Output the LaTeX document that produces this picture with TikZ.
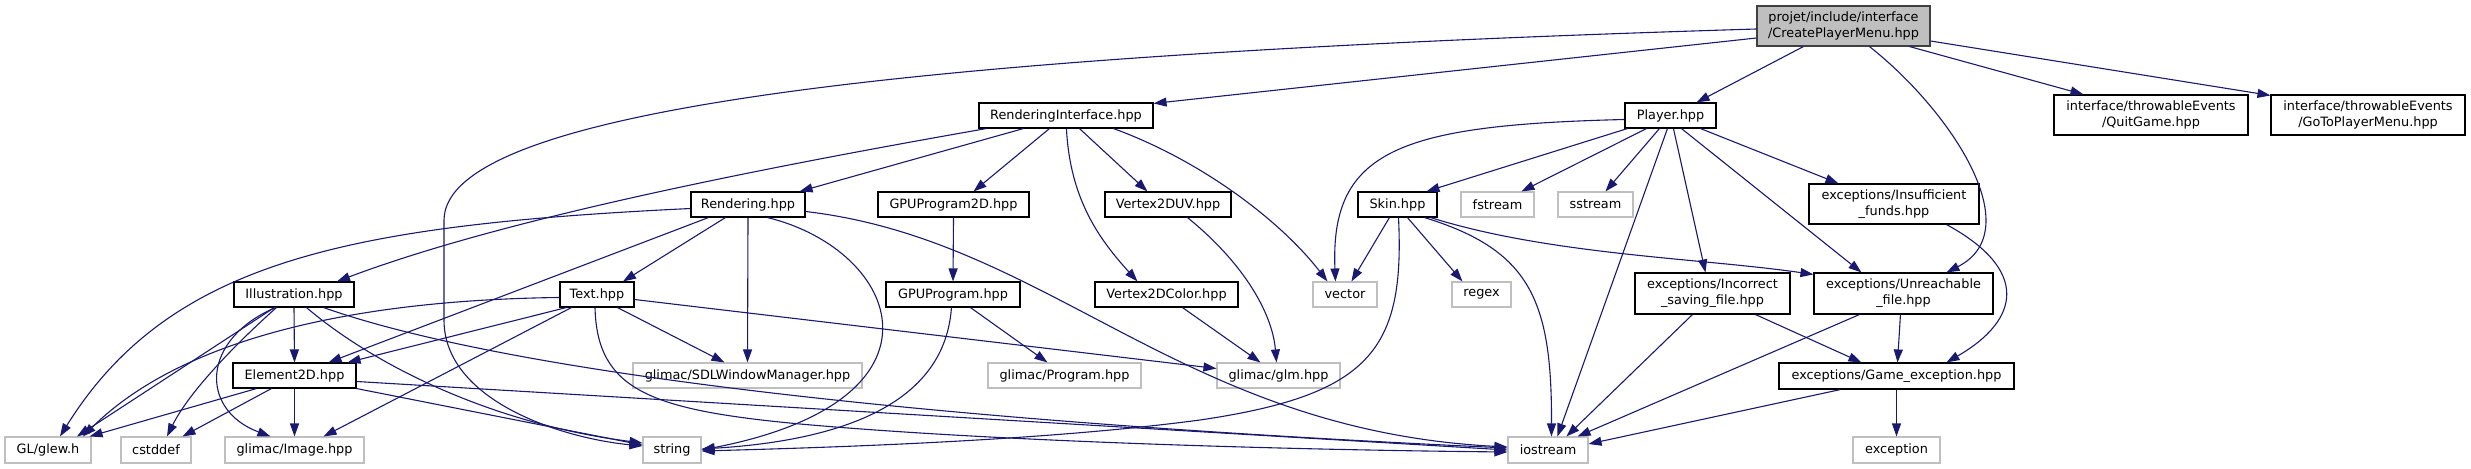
\documentclass[tikz,border=0pt]{standalone}
\usepackage{fontspec}
\setmainfont{DejaVu Sans}
\usetikzlibrary{arrows.meta,calc}
\definecolor{edgec}{HTML}{191970}
\definecolor{extc}{HTML}{BFBFBF}
\definecolor{mainfill}{HTML}{BFBFBF}
\definecolor{mainborder}{HTML}{404040}
\begin{document}
\begin{tikzpicture}[x=1bp,y=-1bp,
  box/.style={draw=black, line width=1.1bp, fill=white, inner sep=0pt, align=center,
    font=\fontsize{12.9}{16}\selectfont},
  ext/.style={box, draw=extc},
  mainbox/.style={box, draw=mainborder, fill=mainfill},
  sz/.style 2 args={minimum width=#1bp, minimum height=#2bp},
  dep/.style={draw=edgec, line width=1.1bp, -{Triangle[length=13bp,width=9bp]}},
]
\useasboundingbox (0,0) rectangle (2471,469);
% nodes
\node[mainbox, sz={173}{40}] (main) at (1843.5,26) {projet/include/interface\\/CreatePlayerMenu.hpp};
\node[box, sz={174}{25}] (RI) at (1066,115.5) {RenderingInterface.hpp};
\node[box, sz={91}{25}] (Player) at (1670.5,115.5) {Player.hpp};
\node[box, sz={194}{40}] (Quit) at (2151,115) {interface/throwableEvents\\/QuitGame.hpp};
\node[box, sz={194}{40}] (GoTo) at (2368,115) {interface/throwableEvents\\/GoToPlayerMenu.hpp};
\node[box, sz={114}{25}] (Rendering) at (748,204.5) {Rendering.hpp};
\node[box, sz={151}{25}] (GPU2D) at (953.5,204.5) {GPUProgram2D.hpp};
\node[box, sz={126}{25}] (V2DUV) at (1168,204.5) {Vertex2DUV.hpp};
\node[box, sz={79}{25}] (Skin) at (1397.5,204.5) {Skin.hpp};
\node[ext, sz={73}{25}] (fstream) at (1497.5,204.5) {fstream};
\node[ext, sz={75}{25}] (sstream) at (1595.5,204.5) {sstream};
\node[box, sz={170}{40}] (Insuff) at (1894,204) {exceptions/Insufficient\\\_funds.hpp};
\node[box, sz={120}{25}] (Illu) at (294,294.5) {Illustration.hpp};
\node[box, sz={74}{25}] (Text) at (597,294.5) {Text.hpp};
\node[box, sz={134}{25}] (GPU) at (953,294.5) {GPUProgram.hpp};
\node[box, sz={143}{25}] (V2DColor) at (1166.5,294.5) {Vertex2DColor.hpp};
\node[ext, sz={64}{25}] (vector) at (1345,294.5) {vector};
\node[ext, sz={59}{25}] (regex) at (1481.5,294.5) {regex};
\node[box, sz={155}{41}] (Inc) at (1712.5,293.5) {exceptions/Incorrect\\\_saving\_file.hpp};
\node[box, sz={179}{41}] (Unr) at (1903.5,293.5) {exceptions/Unreachable\\\_file.hpp};
\node[box, sz={123}{25}] (E2D) at (294.5,375.5) {Element2D.hpp};
\node[ext, sz={229}{25}] (SDL) at (747.5,375.5) {glimac/SDLWindowManager.hpp};
\node[ext, sz={153}{25}] (Program) at (1064.5,375.5) {glimac/Program.hpp};
\node[ext, sz={123}{25}] (glm) at (1278.5,375.5) {glimac/glm.hpp};
\node[box, sz={235}{26}] (GE) at (1896.5,376) {exceptions/Game\_exception.hpp};
\node[ext, sz={86}{26}] (GL) at (48,450) {GL/glew.h};
\node[ext, sz={70}{26}] (cstddef) at (156,450) {cstddef};
\node[ext, sz={139}{26}] (Image) at (294.5,450) {glimac/Image.hpp};
\node[ext, sz={58}{26}] (string) at (672,450) {string};
\node[ext, sz={80}{26}] (iostream) at (1548,450) {iostream};
\node[ext, sz={87}{26}] (exception) at (1896.5,450) {exception};
% edges from main
\draw[dep] ($(main.west)+(0,3)$) .. controls (900,55) and (445,110) .. (444,220) -- (444,320)
  .. controls (444,400) and (560,438) .. ($(string.west)+(0,-4)$);
\draw[dep] ($(main.west)+(0,12)$) -- ($(RI.north east)+(0,1)$);
\draw[dep] ($(main.south west)+(47,0)$) -- ($(Player.north east)+(-20,0)$);
\draw[dep] ($(main.south west)+(113,0)$) .. controls (1950,110) and (2030,230) .. ($(Unr.north west)+(133,0)$);
\draw[dep] ($(main.south west)+(153,0)$) -- ($(Quit.north west)+(30,0)$);
\draw[dep] ($(main.east)+(0,15)$) -- ($(GoTo.north west)+(0,1)$);
% RenderingInterface
\draw[dep] ($(RI.south west)+(8,0)$) .. controls (750,170) and (500,220) .. ($(Illu.north)+(43,0)$);
\draw[dep] ($(RI.south west)+(45,0)$) -- ($(Rendering.north east)+(-6,0)$);
\draw[dep] ($(RI.south west)+(71,0)$) -- ($(GPU2D.north)+(20,0)$);
\draw[dep] ($(RI.south west)+(88,0)$) .. controls (1070,200) and (1100,240) .. ($(V2DColor.north west)+(43,0)$);
\draw[dep] ($(RI.south west)+(101,0)$) -- ($(V2DUV.north west)+(43,0)$);
\draw[dep] ($(RI.south west)+(135,0)$) .. controls (1200,160) and (1280,220) .. ($(vector.north west)+(15,0)$);
% Player
\draw[dep] ($(Player.west)+(0,4)$) .. controls (1400,125) and (1330,150) .. ($(vector.north west)+(23,0)$);
\draw[dep] ($(Player.south west)+(3,0)$) -- ($(Skin.north west)+(69,0)$);
\draw[dep] ($(Player.south west)+(22,0)$) -- ($(fstream.north west)+(61,0)$);
\draw[dep] ($(Player.south west)+(35,0)$) -- ($(sstream.north west)+(48,0)$);
\draw[dep] ($(Player.south west)+(43,0)$) -- ($(iostream.north west)+(50,0)$);
\draw[dep] ($(Player.south west)+(49,0)$) -- ($(Inc.north west)+(71,0)$);
\draw[dep] ($(Player.south west)+(57,0)$) -- ($(Unr.north west)+(48,0)$);
\draw[dep] ($(Player.south west)+(76,0)$) -- ($(Insuff.north west)+(30,0)$);
% Rendering
\draw[dep] ($(Rendering.west)+(0,4)$) .. controls (350,225) and (170,260) .. ($(GL.north)+(12,0)$);
\draw[dep] ($(Rendering.south west)+(18,0)$) -- ($(E2D.north)+(34,0)$);
\draw[dep] ($(Rendering.south west)+(35,0)$) -- ($(Text.north)+(26,0)$);
\draw[dep] (Rendering.south) -- (SDL.north);
\draw[dep] ($(Rendering.south west)+(77,0)$) .. controls (900,250) and (960,400) .. (string.east);
\draw[dep] ($(Rendering.east)+(0,7)$) .. controls (1050,240) and (1180,430) .. ($(iostream.west)+(0,-3)$);
% Illustration
\draw[dep] ($(Illu.south west)+(41,0)$) -- ($(GL.north)+(29,0)$);
\draw[dep] ($(Illu.south west)+(43,0)$) .. controls (240,340) and (190,390) .. ($(cstddef.north)+(11,0)$);
\draw[dep] ($(Illu.south west)+(42,0)$) .. controls (200,340) and (200,410) .. ($(Image.north west)+(46,0)$);
\draw[dep] (Illu.south) -- (E2D.north);
\draw[dep] ($(Illu.south west)+(73,0)$) .. controls (380,370) and (500,425) .. ($(string.west)+(0,-7)$);
\draw[dep] ($(Illu.south east)+(-31,0)$) .. controls (500,370) and (900,420) .. ($(iostream.west)+(0,-2)$);
% Element2D
\draw[dep] ($(E2D.south west)+(24,0)$) -- ($(GL.north east)+(-2,0)$);
\draw[dep] ($(E2D.south west)+(39,0)$) -- ($(cstddef.north east)+(-9,0)$);
\draw[dep] (E2D.south) -- (Image.north);
\draw[dep] (E2D.south east) -- ($(string.west)+(0,-5)$);
\draw[dep] ($(E2D.east)+(0,6)$) -- ($(iostream.west)+(0,0)$);
% Text
\draw[dep] ($(Text.west)+(0,3)$) .. controls (350,300) and (180,340) .. ($(GL.north)+(35,0)$);
\draw[dep] ($(Text.south west)+(7,0)$) -- ($(E2D.north east)+(-9,0)$);
\draw[dep] ($(Text.south west)+(12,0)$) -- ($(Image.north east)+(-41,0)$);
\draw[dep] ($(Text.south)+(-2,0)$) .. controls (597,390) and (650,410) .. (800,424)
  .. controls (1000,442) and (1300,450) .. ($(iostream.west)+(0,2)$);
\draw[dep] ($(Text.south west)+(58,0)$) -- ($(SDL.north west)+(92,0)$);
\draw[dep] ($(Text.east)+(0,5)$) -- ($(glm.west)+(0,-7)$);
% GPU
\draw[dep] (GPU2D.south) -- (GPU.north);
\draw[dep] ($(GPU.south west)+(85,0)$) -- ($(Program.north west)+(60,0)$);
\draw[dep] ($(GPU.south west)+(66,0)$) .. controls (945,400) and (850,440) .. ($(string.east)+(0,-1)$);
% Vertex
\draw[dep] ($(V2DUV.south west)+(83,0)$) .. controls (1240,260) and (1272,310) .. ($(glm.north)+(-2,0)$);
\draw[dep] ($(V2DColor.south west)+(88,0)$) -- ($(glm.north west)+(44,0)$);
% Skin
\draw[dep] ($(Skin.south west)+(32,0)$) -- ($(vector.north west)+(39,0)$);
\draw[dep] ($(Skin.south)+(1,0)$) .. controls (1405,350) and (1370,395) .. (1200,420)
  .. controls (1050,440) and (850,447) .. ($(string.east)+(0,1)$);
\draw[dep] ($(Skin.south west)+(50,0)$) -- ($(regex.north west)+(11,0)$);
\draw[dep] ($(Skin.south west)+(67,0)$) .. controls (1530,250) and (1552,300) .. ($(iostream.north west)+(44,0)$);
\draw[dep] ($(Skin.south east)+(-7,0)$) .. controls (1550,255) and (1700,258) .. ($(Unr.north west)+(0,2)$);
% exceptions
\draw[dep] ($(Inc.south west)+(121,0)$) -- ($(GE.north west)+(83,0)$);
\draw[dep] ($(Inc.south west)+(58,0)$) -- ($(iostream.north west)+(59,0)$);
\draw[dep] ($(Unr.south west)+(87,0)$) -- ($(GE.north)+(1,0)$);
\draw[dep] ($(Unr.south west)+(46,0)$) -- ($(iostream.north east)+(-11,0)$);
\draw[dep] ($(Insuff.south west)+(138,0)$) .. controls (2030,270) and (2020,320) .. ($(GE.north west)+(168,0)$);
\draw[dep] ($(GE.south west)+(62,0)$) -- ($(iostream.east)+(0,-6)$);
\draw[dep] (GE.south) -- (exception.north);
\end{tikzpicture}
\end{document}
